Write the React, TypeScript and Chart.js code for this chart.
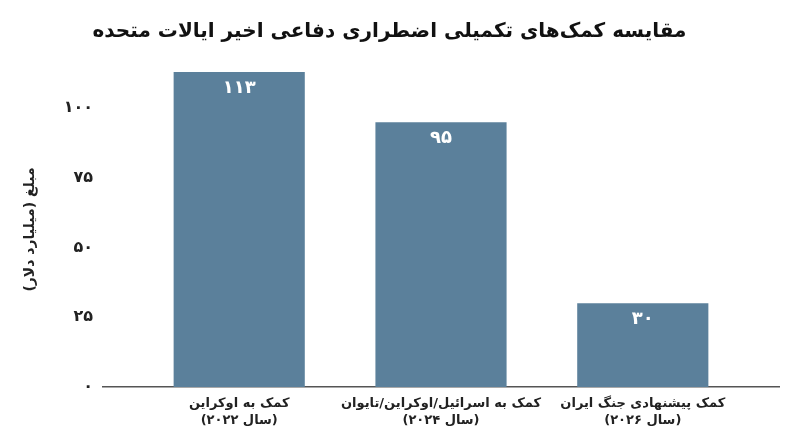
import React, { useEffect, useRef } from 'react';
import { Chart, registerables, ChartConfiguration } from 'chart.js';

Chart.register(...registerables);

const chartTitle = 'مقایسه کمک‌های تکمیلی اضطراری دفاعی اخیر ایالات متحده';
const yAxisTitle = 'مبلغ (میلیارد دلار)';

const categories: string[][] = [
  ['کمک به اوکراین', '(سال ۲۰۲۲)'],
  ['کمک به اسرائیل/اوکراین/تایوان', '(سال ۲۰۲۴)'],
  ['کمک پیشنهادی جنگ ایران', '(سال ۲۰۲۶)'],
];
const values: number[] = [113, 95, 30];
const valueLabels: string[] = ['۱۱۳', '۹۵', '۳۰'];

const yTickValues: number[] = [0, 25, 50, 75, 100];
const yTickLabels: string[] = ['۰', '۲۵', '۵۰', '۷۵', '۱۰۰'];

const FONT = "'DejaVu Sans', 'Noto Sans', sans-serif";
const BAR_COLOR = '#5b809b';

// white value text at the top inside each bar
const valueLabelPlugin = {
  id: 'valueLabels',
  afterDatasetsDraw(chart: Chart) {
    const { ctx } = chart;
    const meta = chart.getDatasetMeta(0);
    ctx.save();
    ctx.fillStyle = '#ffffff';
    ctx.font = `bold 18px ${FONT}`;
    ctx.textAlign = 'center';
    ctx.textBaseline = 'middle';
    meta.data.forEach((bar: any, i: number) => {
      ctx.fillText(valueLabels[i], bar.x, bar.y + 16);
    });
    ctx.restore();
  },
};

const App: React.FC = () => {
  const chartRef = useRef<HTMLCanvasElement>(null);
  const chartInstance = useRef<Chart | null>(null);

  useEffect(() => {
    if (!chartRef.current) return;
    const ctx = chartRef.current.getContext('2d');
    if (!ctx) return;

    if (chartInstance.current) {
      chartInstance.current.destroy();
    }

    const config: ChartConfiguration = {
      type: 'bar',
      data: {
        datasets: [
          {
            label: 'amount',
            data: values.map((v, i) => ({ x: i, y: v })),
            backgroundColor: BAR_COLOR,
            borderWidth: 0,
            categoryPercentage: 1,
            barPercentage: 0.65,
          },
        ],
      },
      plugins: [valueLabelPlugin],
      options: {
        animation: false,
        responsive: true,
        maintainAspectRatio: false,
        layout: {
          padding: { top: 0, left: 0, right: 21, bottom: 0 },
        },
        plugins: {
          legend: { display: false },
          tooltip: { enabled: false },
          title: {
            display: true,
            text: chartTitle,
            color: '#111111',
            font: { family: FONT, size: 20, weight: 'bold', lineHeight: 1.2 },
            padding: { top: 20, bottom: 28 },
          },
        },
        scales: {
          x: {
            type: 'linear',
            offset: false,
            min: -0.675,
            max: 2.675,
            afterFit: (scale: any) => {
              scale.height = 60;
            },
            afterBuildTicks: (scale: any) => {
              scale.ticks = categories.map((_, i) => ({ value: i }));
            },
            grid: { display: false, drawTicks: false },
            border: { display: true, color: '#555555', width: 1.5 },
            ticks: {
              autoSkip: false,
              maxRotation: 0,
              padding: 8,
              color: '#222222',
              font: { family: FONT, size: 13, weight: 'bold', lineHeight: 1.3 },
              callback: (value: any) => categories[Math.round(value)] ?? '',
            },
          },
          y: {
            min: 0,
            max: 113,
            afterFit: (scale: any) => {
              scale.width = 103;
            },
            afterBuildTicks: (scale: any) => {
              scale.ticks = yTickValues.map((v) => ({ value: v }));
            },
            grid: { display: false, drawTicks: false },
            border: { display: false },
            ticks: {
              padding: 10,
              color: '#222222',
              font: { family: FONT, size: 16, weight: 'bold' },
              callback: (value: any) => {
                const idx = yTickValues.indexOf(Number(value));
                return idx >= 0 ? yTickLabels[idx] : '';
              },
            },
            title: {
              display: true,
              text: yAxisTitle,
              color: '#222222',
              font: { family: FONT, size: 14, weight: 'bold', lineHeight: 1.2 },
              padding: { top: 22, bottom: 0 },
            },
          },
        },
      },
    };

    chartInstance.current = new Chart(ctx, config);

    return () => {
      if (chartInstance.current) {
        chartInstance.current.destroy();
        chartInstance.current = null;
      }
    };
  }, []);

  return (
    <div
      style={{
        position: 'fixed',
        left: 0,
        top: 0,
        width: '800px',
        height: '447px',
        background: '#ffffff',
      }}
    >
      <canvas ref={chartRef} />
    </div>
  );
};

export default App;
